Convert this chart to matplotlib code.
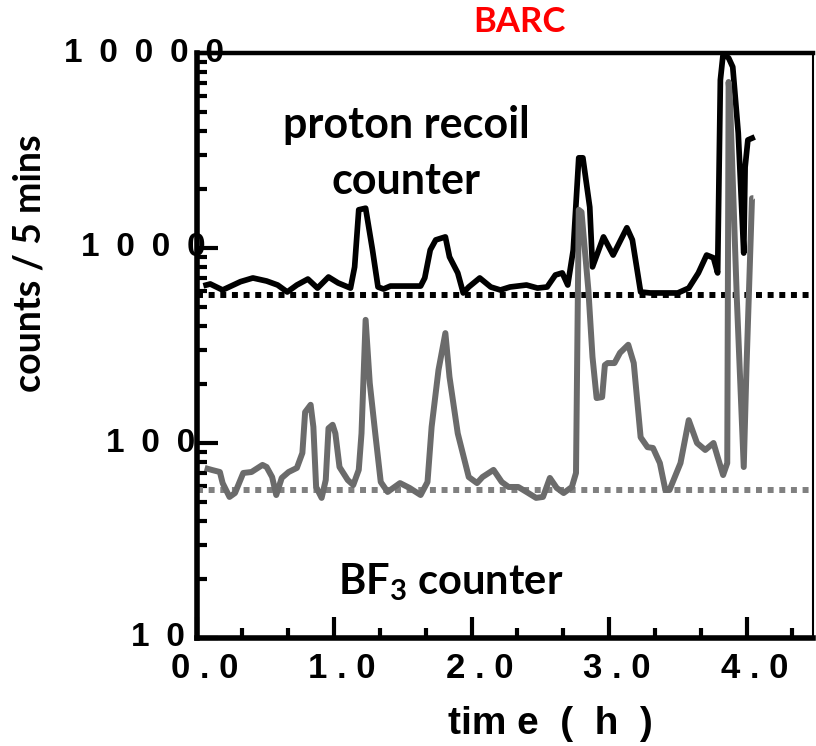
import matplotlib
matplotlib.use('Agg')
import matplotlib.pyplot as plt
from matplotlib.ticker import FixedLocator, LogLocator, NullFormatter, MultipleLocator
from matplotlib.transforms import blended_transform_factory

plt.rcParams['mathtext.fontset'] = 'custom'
plt.rcParams['mathtext.rm'] = 'Lato'
plt.rcParams['mathtext.bf'] = 'Lato:bold'
plt.rcParams['mathtext.it'] = 'Lato:italic'

# ---------------- data ----------------
t_recoil = [0.05, 0.10, 0.19, 0.32, 0.41, 0.51, 0.59, 0.66, 0.73, 0.81,
            0.88, 0.96, 1.03, 1.12, 1.15, 1.18, 1.23, 1.28, 1.32, 1.36,
            1.41, 1.63, 1.66, 1.70, 1.74, 1.81, 1.84, 1.90, 1.94, 1.98,
            2.06, 2.14, 2.21, 2.28, 2.40, 2.48, 2.55, 2.61, 2.66, 2.70,
            2.74, 2.78, 2.81, 2.86, 2.88, 2.96, 3.03, 3.13, 3.17, 3.23,
            3.30, 3.50, 3.58, 3.65, 3.71, 3.76, 3.79, 3.81, 3.83, 3.87,
            3.90, 3.94, 3.98, 3.99, 4.01, 4.06]
c_recoil = [640, 654, 609, 672, 702, 677, 646, 595, 646, 693,
            623, 710, 662, 623, 799, 1570, 1600, 977, 631, 616,
            638, 638, 702, 977, 1100, 1140, 900, 745, 588, 631,
            702, 631, 609, 631, 646, 623, 631, 727, 745, 646,
            977, 2900, 2900, 1620, 800, 1140, 920, 1270, 1100, 595,
            588, 588, 623, 745, 920, 890, 745, 7270, 9900, 9430,
            8480, 3890, 942, 2600, 3580, 3710]

t_bf3 = [0.06, 0.11, 0.17, 0.19, 0.24, 0.28, 0.34, 0.40, 0.48, 0.51,
         0.55, 0.58, 0.62, 0.67, 0.73, 0.77, 0.79, 0.83, 0.85, 0.87,
         0.91, 0.94, 0.96, 0.99, 1.01, 1.04, 1.10, 1.14, 1.18, 1.20,
         1.23, 1.26, 1.30, 1.34, 1.39, 1.48, 1.55, 1.63, 1.68, 1.71,
         1.76, 1.81, 1.84, 1.90, 1.98, 2.04, 2.08, 2.16, 2.22, 2.27,
         2.34, 2.40, 2.47, 2.52, 2.57, 2.62, 2.67, 2.73, 2.76, 2.78,
         2.80, 2.85, 2.88, 2.91, 2.95, 2.97, 2.99, 3.04, 3.08, 3.14,
         3.18, 3.23, 3.28, 3.32, 3.37, 3.41, 3.44, 3.52, 3.58, 3.64,
         3.70, 3.76, 3.79, 3.83, 3.86, 3.87, 3.88, 3.93, 3.98, 4.00,
         4.04, 4.05]
c_bf3 = [74.5, 72.8, 71.0, 62.3, 52.9, 55.4, 70.2, 71.0, 77.2, 75.3,
         66.9, 54.1, 66.2, 71.0, 74.5, 88.9, 144, 157, 121, 59.5,
         52.3, 64.6, 119, 124, 112, 75.3, 64.6, 60.9, 72.8, 112,
         428, 203, 112, 63.1, 56.1, 62.3, 58.8, 54.1, 63.1, 121,
         237, 366, 218, 112, 66.9, 62.3, 66.9, 72.8, 63.1, 59.5,
         59.5, 56.1, 52.3, 52.9, 66.2, 58.8, 55.4, 59.5, 70.2, 1570,
         1530, 609, 276, 170, 172, 251, 257, 257, 290, 319,
         257, 107, 95.2, 94.3, 78.9, 57.4, 57.4, 78.9, 131, 100,
         92.1, 100, 84.8, 68.5, 78.9, 7100, 5740, 541, 75.3, 245,
         1800, 1800]

bg_recoil = 575
bg_bf3 = 57.5

x_ticks = [0, 1, 2, 3, 4]
x_tick_labels = ['0 . 0', '1 . 0', '2 . 0', '3 . 0', '4 . 0']
y_ticks = [10, 100, 1000, 10000]
y_tick_labels = ['1\u20020', '1\u20020\u20020', '1\u20020\u20020\u20020',
                 '1\u20020\u20020\u20020\u20020']

W, H = 816, 746
fig = plt.figure(figsize=(W / 100, H / 100), dpi=100)
x0, x1, ytop, ybot = 196.5, 813, 53, 638
ax = fig.add_axes([x0 / W, 1 - ybot / H, (x1 - x0) / W, (ybot - ytop) / H])
ax.set_yscale('log')
ax.set_xlim(0, (x1 - x0) / 137.5)
ax.set_ylim(10, 10000)

# background dotted lines
ax.axhline(bg_recoil, color='black', lw=4.3, dashes=(1, 0.95), dash_capstyle='butt', zorder=2)
ax.axhline(bg_bf3, color='#808080', lw=4.3, dashes=(1, 0.95), dash_capstyle='butt', zorder=2)

ax.plot(t_recoil, c_recoil, color='black', lw=4.1, solid_joinstyle='round',
        solid_capstyle='butt', zorder=3)
ax.plot(t_bf3, c_bf3, color='#6b6b6b', lw=4.3, solid_joinstyle='round',
        solid_capstyle='butt', zorder=4)

# spines
for s in ['left', 'bottom']:
    ax.spines[s].set_linewidth(4.0)
ax.spines['top'].set_linewidth(3.2)
ax.spines['right'].set_linewidth(1.5)

ax.xaxis.set_major_locator(FixedLocator(x_ticks))
ax.xaxis.set_minor_locator(MultipleLocator(1 / 3))
ax.yaxis.set_major_locator(FixedLocator(y_ticks))
ax.yaxis.set_minor_locator(LogLocator(base=10, subs=range(2, 10)))
ax.yaxis.set_minor_formatter(NullFormatter())
ax.tick_params(which='major', direction='in', length=15, width=3,
               labelleft=False, labelbottom=False, top=False, right=False)
ax.tick_params(which='minor', direction='in', length=7.5, width=3,
               top=False, right=False)

tick_font = dict(family=['Liberation Sans', 'DejaVu Sans'], fontweight='bold', fontsize=25)
# y tick labels
ytr = blended_transform_factory(fig.transFigure, ax.transData)
y_label_right = [185, 195, 206, 224]
for v, lab, xr in zip(y_ticks, y_tick_labels, y_label_right):
    ax.text(xr / W, v, lab, transform=ytr, ha='right', va='center',
            family=['Liberation Sans', 'DejaVu Sans'], fontweight='bold', fontsize=24)
# x tick labels
xtr = blended_transform_factory(ax.transData, fig.transFigure)
for v, lab in zip(x_ticks, x_tick_labels):
    ax.text(v + 8 / 137.5, 1 - 668 / H, lab, transform=xtr, ha='center', va='center', **tick_font)

fig.text(550 / W, 1 - 724 / H, 'tim e  (  h  )', ha='center', va='center',
         family=['Liberation Sans', 'DejaVu Sans'], fontweight='bold', fontsize=28)

lab_font = dict(family=['Lato', 'DejaVu Sans'], fontweight='bold')
fig.text(30 / W, 1 - 263 / H, 'counts / 5 mins', rotation=90, ha='center', va='center',
         fontsize=27, **lab_font)
fig.text(519 / W, 1 - 22 / H, 'BARC', color='#ff0000', ha='center', va='center',
         fontsize=25, **lab_font)
fig.text(406 / W, 1 - 125 / H, 'proton recoil', ha='center', va='center', fontsize=31, **lab_font)
fig.text(406 / W, 1 - 181 / H, 'counter', ha='center', va='center', fontsize=31, **lab_font)
fig.text(451 / W, 1 - 582 / H, r'BF$_\mathbf{3}$ counter', ha='center', va='center',
         fontsize=30, **lab_font)

fig.savefig('out.png', dpi=100)
